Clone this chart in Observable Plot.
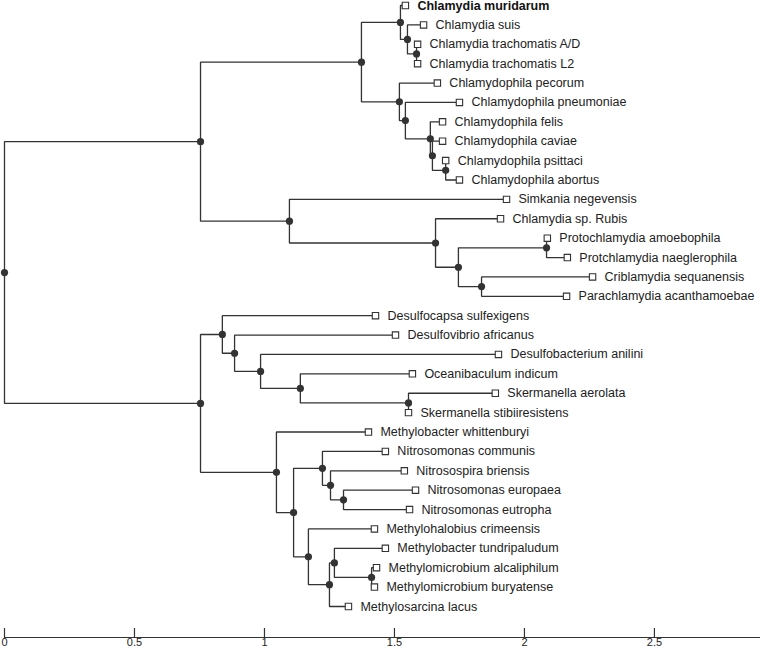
<!DOCTYPE html>
<html>
<head>
<meta charset="utf-8">
<script src="https://cdn.jsdelivr.net/npm/d3@7"></script>
<script src="https://cdn.jsdelivr.net/npm/@observablehq/plot@0.6"></script>
<style>
  html, body { margin: 0; padding: 0; background: #fff; }
  #chart svg { display: block; }
</style>
</head>
<body>
<div id="chart"></div>
<script>
// Leaves, top to bottom
const leafNames = [
  "Chlamydia muridarum", "Chlamydia suis", "Chlamydia trachomatis A/D", "Chlamydia trachomatis L2",
  "Chlamydophila pecorum", "Chlamydophila pneumoniae", "Chlamydophila felis", "Chlamydophila caviae",
  "Chlamydophila psittaci", "Chlamydophila abortus", "Simkania negevensis", "Chlamydia sp. Rubis",
  "Protochlamydia amoebophila", "Protchlamydia naeglerophila", "Criblamydia sequanensis", "Parachlamydia acanthamoebae",
  "Desulfocapsa sulfexigens", "Desulfovibrio africanus", "Desulfobacterium anilini", "Oceanibaculum indicum",
  "Skermanella aerolata", "Skermanella stibiiresistens", "Methylobacter whittenburyi", "Nitrosomonas communis",
  "Nitrosospira briensis", "Nitrosomonas europaea", "Nitrosomonas eutropha", "Methylohalobius crimeensis",
  "Methylobacter tundripaludum", "Methylomicrobium alcaliphilum", "Methylomicrobium buryatense", "Methylosarcina lacus"
];
const leafParents = [
  "C2", "C3", "C4", "C4",
  "P1", "P2", "P3", "P4",
  "P5", "P5", "O1", "O2",
  "O4", "O4", "O5", "O5",
  "D1", "D2", "D3", "D4",
  "D5", "D5", "M1", "N1",
  "N2", "N3", "N3", "M3",
  "M5", "M6", "M6", "M4"
];
// distance from root
const leafDepths = [
  1.542, 1.612, 1.589, 1.589,
  1.665, 1.750, 1.685, 1.685,
  1.697, 1.750, 1.931, 1.908,
  2.088, 2.165, 2.262, 2.162,
  1.427, 1.504, 1.900, 1.569,
  1.888, 1.554, 1.400, 1.465,
  1.538, 1.581, 1.558, 1.423,
  1.465, 1.431, 1.423, 1.323
];
const boldLeaves = ["Chlamydia muridarum"];

// Internal nodes (parents listed before children)
const innerIds = ["root", "A", "B", "C1", "C2", "C3", "C4", "P1", "P2", "P3", "P4", "P5",
  "O1", "O2", "O3", "O4", "O5", "D1", "D2", "D3", "D4", "D5",
  "M1", "M2", "N1", "N2", "N3", "M3", "M4", "M5", "M6"];
const innerParents = [null, "root", "root", "A", "C1", "C2", "C3", "C1", "P1", "P2", "P3", "P4",
  "A", "O1", "O2", "O3", "O3", "B", "D1", "D2", "D3", "D4",
  "B", "M1", "M2", "N1", "N2", "M2", "M3", "M4", "M5"];
const innerDepths = [0, 0.754, 0.754, 1.373, 1.523, 1.550, 1.585, 1.519, 1.542, 1.638, 1.646, 1.697,
  1.096, 1.658, 1.746, 2.085, 1.835, 0.838, 0.885, 0.985, 1.138, 1.554,
  1.046, 1.112, 1.223, 1.254, 1.304, 1.169, 1.250, 1.269, 1.412];

const axisTicks = [0, 0.5, 1, 1.5, 2, 2.5];
const xMax = 2.908;

// Build node table
const nodes = new Map();
leafNames.forEach((n, i) => nodes.set(n, {id: n, parent: leafParents[i], depth: leafDepths[i], y: i, leaf: true}));
innerIds.forEach((n, i) => nodes.set(n, {id: n, parent: innerParents[i], depth: innerDepths[i], y: null, leaf: false, kids: []}));
for (const nd of nodes.values()) if (nd.parent) nodes.get(nd.parent).kids.push(nd);
for (let i = innerIds.length - 1; i >= 0; i--) {
  const nd = nodes.get(innerIds[i]);
  const ys = nd.kids.map(k => k.y);
  nd.y = (d3.min(ys) + d3.max(ys)) / 2;
}
const links = [];
for (const nd of nodes.values()) if (nd.parent) {
  const p = nodes.get(nd.parent);
  links.push({x1: p.depth, y1: p.y, x2: nd.depth, y2: nd.y});
}
const leaves = [...nodes.values()].filter(d => d.leaf);
const inner = [...nodes.values()].filter(d => !d.leaf);
const boldSet = leaves.filter(d => boldLeaves.includes(d.id));
const plainSet = leaves.filter(d => !boldLeaves.includes(d.id));

const ink = "#333";
const chart = Plot.plot({
  width: 760,
  height: 651,
  marginLeft: 4,
  marginRight: 0,
  marginTop: 0,
  marginBottom: 14,
  style: {fontFamily: "'Liberation Sans', Arial, sans-serif", background: "#fff", overflow: "visible"},
  x: {domain: [0, xMax], axis: null},
  y: {domain: [0, leafNames.length - 1], range: [5, 606], axis: null},
  marks: [
    Plot.frame({anchor: "bottom", stroke: ink, strokeWidth: 1.2}),
    Plot.axisX({ticks: axisTicks, tickFormat: d => String(d), tickSize: -9, tickPadding: 10,
      stroke: ink, fill: "#222", fontSize: 11, label: null, strokeWidth: 1.2}),
    Plot.link(links, {x1: "x1", y1: "y1", x2: "x2", y2: "y2", curve: "step-before", stroke: ink, strokeWidth: 1.3}),
    Plot.dot(inner, {x: "depth", y: "y", r: 3.6, fill: ink, stroke: null}),
    Plot.dot(leaves, {x: "depth", y: "y", r: 3.6, symbol: "square", fill: "#fff", stroke: ink, strokeWidth: 1.1}),
    Plot.text(plainSet, {x: "depth", y: "y", text: "id", dx: 12, textAnchor: "start", fontSize: 12.5, fill: "#222"}),
    Plot.text(boldSet, {x: "depth", y: "y", text: "id", dx: 12, textAnchor: "start", fontSize: 12.5, fill: "#111", fontWeight: "bold"})
  ]
});
document.getElementById("chart").append(chart);
</script>
</body>
</html>
